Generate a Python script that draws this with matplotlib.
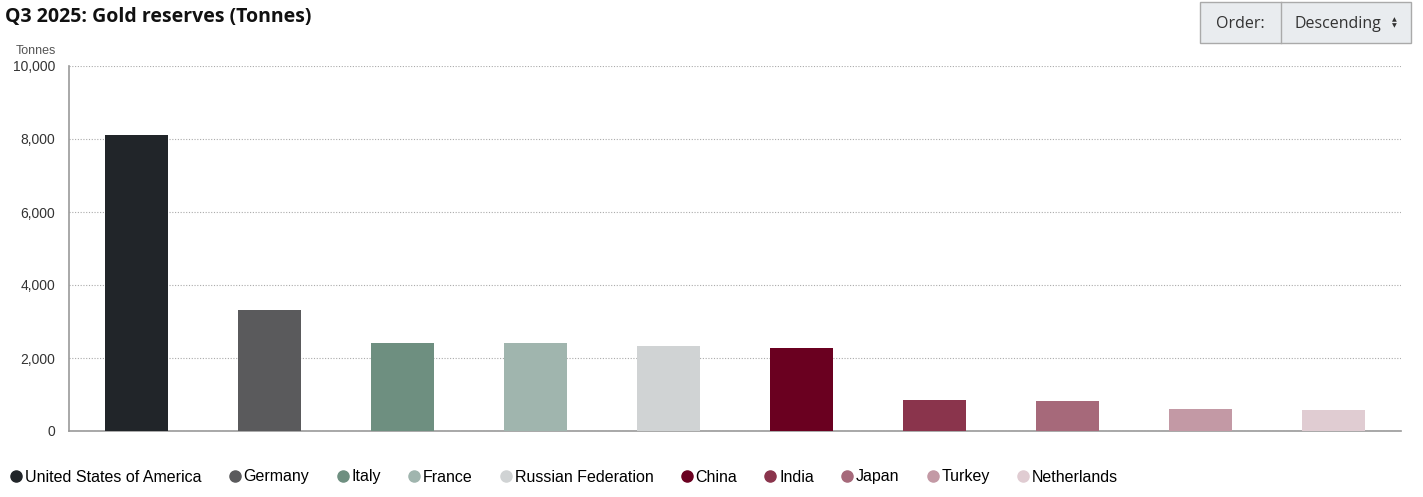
import matplotlib
matplotlib.use('Agg')
import matplotlib.pyplot as plt
from matplotlib.patches import Rectangle
from matplotlib.lines import Line2D

# data
countries = ['United States of America', 'Germany', 'Italy', 'France',
             'Russian Federation', 'China', 'India', 'Japan', 'Turkey', 'Netherlands']
tonnes = [8110, 3320, 2420, 2420, 2320, 2275, 850, 835, 600, 575]
colors = ['#212529', '#5a5a5c', '#6e8f80', '#a0b5ae', '#d0d3d4',
          '#6a0020', '#8a344c', '#a6697a', '#c399a5', '#e0ccd2']
yticks = [0, 2000, 4000, 6000, 8000, 10000]

W, H = 1423, 497
fig = plt.figure(figsize=(W / 100, H / 100), dpi=100)
ax = fig.add_axes([69 / W, 1 - 431 / H, (1401 - 69) / W, (431 - 66) / H])

x = list(range(len(countries)))
ax.bar(x, tonnes, width=0.475, color=colors, zorder=3)

ax.set_xlim(-0.5075, len(countries) - 1 + 0.5075)
ax.set_ylim(0, 10000)
ax.set_yticks(yticks)
ax.set_yticklabels([f'{v:,}' for v in yticks], fontsize=10, color='#333333',
                   family='Liberation Sans')
ax.set_xticks([])
ax.tick_params(axis='y', length=0, pad=10)
ax.grid(axis='y', linestyle=(0, (1, 1.5)), color='#aaaaaa', linewidth=0.8, zorder=0)
for s in ['top', 'right']:
    ax.spines[s].set_visible(False)
for s in ['left', 'bottom']:
    ax.spines[s].set_color('#999999')
    ax.spines[s].set_linewidth(1.2)

fig.text(56 / W, 1 - 51 / H, 'Tonnes', ha='right', va='center', fontsize=9,
         color='#555555', family='Liberation Sans')

# title
fig.text(5 / W, 1 - 17 / H, 'Q3 2025: Gold reserves (Tonnes)', ha='left', va='center',
         fontsize=14, fontweight='bold', family='Open Sans', color='#111111')

# order selector box
fig.patches.append(Rectangle((1200 / W, 1 - 43 / H), 211 / W, 41 / H,
                             transform=fig.transFigure, facecolor='#e9ecef',
                             edgecolor='#aaaaaa', linewidth=1))
fig.add_artist(Line2D([1281 / W, 1281 / W], [1 - 43 / H, 1 - 2 / H],
                      transform=fig.transFigure, color='#aaaaaa', linewidth=1))
fig.text(1240 / W, 1 - 24 / H, 'Order:', ha='center', va='center', fontsize=11.5,
         family='Open Sans', color='#333333')
fig.text(1294 / W, 1 - 24 / H, 'Descending', ha='left', va='center', fontsize=11.5,
         family='Open Sans', color='#333333')
fig.text(1394 / W, 1 - 20 / H, '▲', ha='center', va='center', fontsize=4.5, color='#333333')
fig.text(1394 / W, 1 - 26 / H, '▼', ha='center', va='center', fontsize=4.5, color='#333333')

# legend
handles = [Line2D([], [], marker='o', linestyle='', markersize=8, color=c)
           for c in colors]
fig.legend(handles, countries, loc='center left', bbox_to_anchor=(2 / W, 1 - 477 / H),
           ncol=len(countries), frameon=False, handletextpad=0.05, columnspacing=1.58,
           handlelength=1.0, borderaxespad=0,
           prop={'family': 'Liberation Sans', 'size': 11.5})

fig.savefig('out.png', dpi=100, facecolor='white')
